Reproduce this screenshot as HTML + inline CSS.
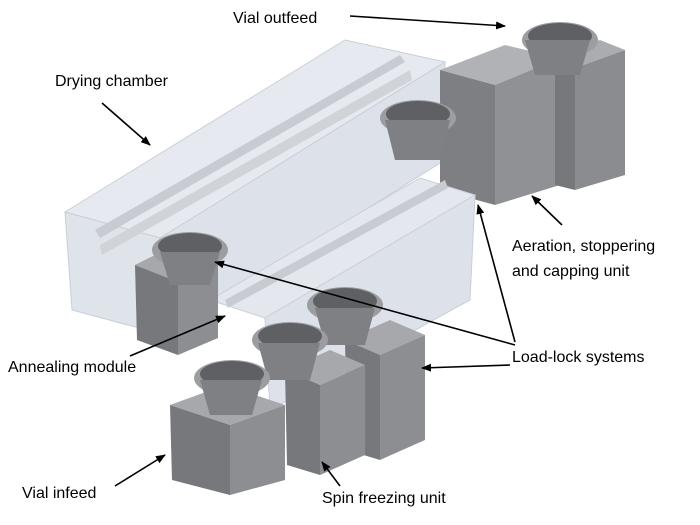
<!DOCTYPE html>
<html><head><meta charset="utf-8"><style>
html,body{margin:0;padding:0;background:#fff;}
svg{display:block}
text{font-family:"Liberation Sans",Arial,sans-serif;font-size:16px;fill:#000}
</style></head><body>
<svg width="700" height="525" viewBox="0 0 700 525" xmlns="http://www.w3.org/2000/svg">
<defs>
<marker id="ah" markerWidth="10" markerHeight="8" refX="9" refY="4" orient="auto" markerUnits="userSpaceOnUse">
<path d="M0,0 L10,4 L0,8 z" fill="#000"/></marker>
</defs>

<!-- upper drying chamber (translucent) -->
<polygon points="65,212 345,40 445,62 160,238" fill="#e6eaf0" stroke="#c9cfd8"/>
<polygon points="65,212 160,238 165,335 72,310" fill="#dfe3ea" stroke="#c9cfd8"/>
<polygon points="160,238 445,62 445,160 165,335" fill="#dde2ea" stroke="#c9cfd8"/>
<!-- rails upper -->
<polygon points="95,230 400,55 405,62 100,238" fill="#c8ccd2"/>
<polygon points="100,245 410,70 412,80 102,255" fill="#d0d3d8"/>

<!-- aeration box -->
<polygon points="440,70 505,45 560,58 495,85" fill="#b0b2b5"/>
<polygon points="440,70 495,85 495,205 440,190" fill="#7d7f83"/>
<polygon points="495,85 560,58 560,185 495,205" fill="#8f9195"/>
<polygon points="555,55 600,40 625,50 575,68" fill="#aaacaf"/>
<polygon points="555,55 575,68 575,190 555,185" fill="#76787c"/>
<polygon points="575,68 625,50 625,175 575,190" fill="#8a8c90"/>
<ellipse cx="560" cy="40" rx="38" ry="18" fill="#9b9da1"/>
<ellipse cx="560" cy="36" rx="32" ry="13" fill="#5e6064"/>
<ellipse cx="418" cy="118" rx="38" ry="18" fill="#9b9da1"/>
<ellipse cx="418" cy="114" rx="32" ry="13" fill="#5e6064"/>
<polygon points="385,120 450,120 440,160 395,160" fill="#7e8084"/>
<polygon points="525,40 590,40 580,75 535,75" fill="#7e8084"/>

<!-- lower drying chamber -->
<polygon points="210,300 420,178 475,195 265,318" fill="#e4e8ee" stroke="#c9cfd8"/>
<polygon points="265,318 475,195 470,300 270,410" fill="#dde2ea" stroke="#c9cfd8"/>
<polygon points="225,300 445,180 448,188 228,308" fill="#c8ccd2"/>

<!-- annealing box -->
<polygon points="135,265 175,245 218,262 178,282" fill="#a6a8ab"/>
<polygon points="135,265 178,282 178,355 137,340" fill="#76787c"/>
<polygon points="178,282 218,262 218,338 178,355" fill="#8c8e92"/>
<ellipse cx="190" cy="250" rx="38" ry="18" fill="#9b9da1"/>
<ellipse cx="190" cy="246" rx="32" ry="13" fill="#5e6064"/>
<polygon points="160,252 220,252 210,285 170,285" fill="#7e8084"/>

<!-- spin freezing units -->
<polygon points="345,340 390,320 425,335 380,355" fill="#a6a8ab"/>
<polygon points="345,340 380,355 380,460 347,450" fill="#76787c"/>
<polygon points="380,355 425,335 425,440 380,460" fill="#8c8e92"/>
<ellipse cx="345" cy="305" rx="38" ry="18" fill="#9b9da1"/>
<ellipse cx="345" cy="301" rx="32" ry="13" fill="#5e6064"/>
<polygon points="315,308 375,308 365,345 325,345" fill="#7e8084"/>

<polygon points="285,370 330,350 365,365 320,385" fill="#a6a8ab"/>
<polygon points="285,370 320,385 320,475 287,465" fill="#76787c"/>
<polygon points="320,385 365,365 365,455 320,475" fill="#8c8e92"/>
<ellipse cx="290" cy="340" rx="38" ry="18" fill="#9b9da1"/>
<ellipse cx="290" cy="336" rx="32" ry="13" fill="#5e6064"/>
<polygon points="258,343 320,343 310,380 268,380" fill="#7e8084"/>

<polygon points="170,405 225,385 285,405 230,425" fill="#a6a8ab"/>
<polygon points="170,405 230,425 230,495 172,480" fill="#76787c"/>
<polygon points="230,425 285,405 285,480 230,495" fill="#8c8e92"/>
<ellipse cx="232" cy="378" rx="38" ry="18" fill="#9b9da1"/>
<ellipse cx="232" cy="374" rx="32" ry="13" fill="#5e6064"/>
<polygon points="200,380 262,380 252,415 210,415" fill="#7e8084"/>

<!-- labels -->
<text x="233" y="23">Vial outfeed</text>
<text x="55" y="86">Drying chamber</text>
<text x="512" y="251">Aeration, stoppering</text>
<text x="512" y="276">and capping unit</text>
<text x="512" y="362">Load-lock systems</text>
<text x="8" y="372">Annealing module</text>
<text x="22" y="498">Vial infeed</text>
<text x="322" y="503">Spin freezing unit</text>

<!-- arrows -->
<g stroke="#000" stroke-width="1.6" fill="none" marker-end="url(#ah)">
<line x1="350" y1="16" x2="505" y2="26"/>
<line x1="102" y1="103" x2="150" y2="145"/>
<line x1="562" y1="225" x2="532" y2="196"/>
<line x1="515" y1="345" x2="215" y2="262"/>
<line x1="515" y1="342" x2="478" y2="205"/>
<line x1="510" y1="365" x2="422" y2="368"/>
<line x1="130" y1="356" x2="225" y2="316"/>
<line x1="115" y1="486" x2="165" y2="455"/>
<line x1="340" y1="486" x2="322" y2="462"/>
</g>
</svg>
</body></html>
